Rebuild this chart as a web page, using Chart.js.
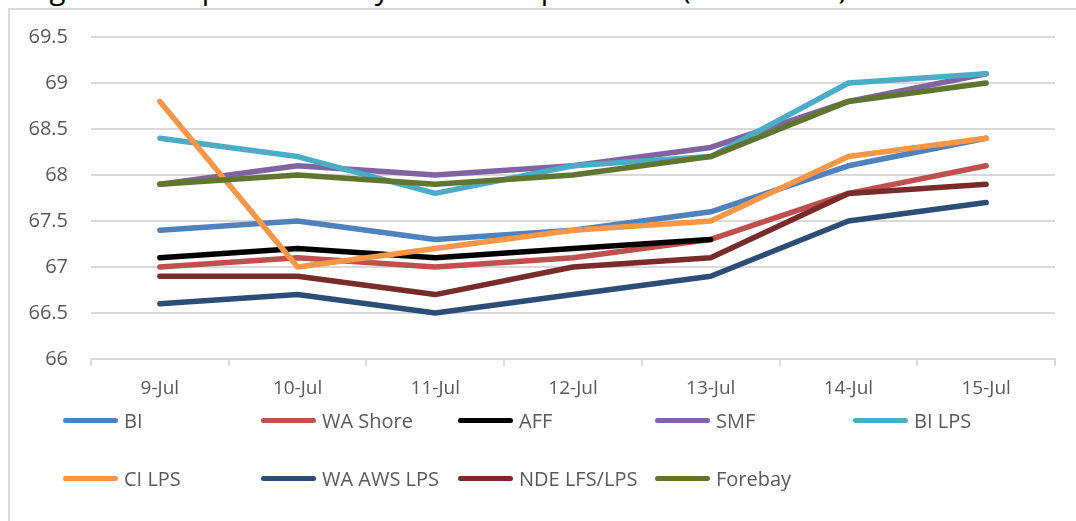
<!DOCTYPE html>
<html>
<head>
<meta charset="utf-8">
<script src="https://cdn.jsdelivr.net/npm/chart.js@4"></script>
<style>
  html, body { margin: 0; padding: 0; background: #ffffff; }
  #wrap { position: relative; width: 1076px; height: 521px; overflow: hidden; font-family: "Open Sans", sans-serif; }
  #title { position: absolute; left: 27px; top: -26px; font-size: 29.3px; line-height: 29px; color: #000; white-space: nowrap; }
  #frame { position: absolute; left: 8px; top: 8px; width: 1100px; height: 600px; border: 2px solid #d9d9d9; background: #fff; }
  #c { position: absolute; left: 0; top: 0; }
  .lg { position: absolute; display: flex; align-items: center; font-size: 20px; color: #595959; white-space: nowrap; }
  .lg .sw { width: 55px; height: 5px; border-radius: 3px; margin-right: 6px; }
</style>
</head>
<body>
<div id="wrap">
  <div id="title">Figure 4: Snapshot of Daily Water temperatures (Fahrenheit)</div>
  <div id="frame"></div>
  <canvas id="c" width="1076" height="521"></canvas>
  <div id="legend"></div>
</div>
<script>
const categories = ["9-Jul", "10-Jul", "11-Jul", "12-Jul", "13-Jul", "14-Jul", "15-Jul"];
const seriesNames = ["BI", "WA Shore", "AFF", "SMF", "BI LPS", "CI LPS", "WA AWS LPS", "NDE LFS/LPS", "Forebay"];
const BI        = [67.4, 67.5, 67.3, 67.4, 67.6, 68.1, 68.4];
const WA_Shore  = [67.0, 67.1, 67.0, 67.1, 67.3, 67.8, 68.1];
const AFF       = [67.1, 67.2, 67.1, 67.2, 67.3, null, null];
const SMF       = [67.9, 68.1, 68.0, 68.1, 68.3, 68.8, 69.1];
const BI_LPS    = [68.4, 68.2, 67.8, 68.1, 68.2, 69.0, 69.1];
const CI_LPS    = [68.8, 67.0, 67.2, 67.4, 67.5, 68.2, 68.4];
const WA_AWS_LPS= [66.6, 66.7, 66.5, 66.7, 66.9, 67.5, 67.7];
const NDE_LFS   = [66.9, 66.9, 66.7, 67.0, 67.1, 67.8, 67.9];
const Forebay   = [67.9, 68.0, 67.9, 68.0, 68.2, 68.8, 69.0];
const yTicks = [66, 66.5, 67, 67.5, 68, 68.5, 69, 69.5];

const seriesData = [BI, WA_Shore, AFF, SMF, BI_LPS, CI_LPS, WA_AWS_LPS, NDE_LFS, Forebay];
const colors = ["#4F81BD", "#C0504D", "#000000", "#8064A2", "#4BACC6", "#F79646", "#2C4D75", "#772C2A", "#5F7530"];

const N = seriesData.length;
const datasets = seriesData.map((d, i) => ({
  label: seriesNames[i],
  data: d,
  borderColor: colors[i],
  backgroundColor: colors[i],
  borderWidth: 5.5,
  pointRadius: 0,
  pointHoverRadius: 0,
  tension: 0,
  fill: false,
  spanGaps: false,
  borderCapStyle: 'round',
  borderJoinStyle: 'round',
  order: N - i
}));

const FONT = '"Open Sans", sans-serif';

new Chart(document.getElementById('c'), {
  type: 'line',
  data: { labels: categories, datasets },
  options: {
    responsive: false,
    animation: false,
    events: [],
    layout: { padding: { left: 0, right: 21, top: 37, bottom: 0 } },
    plugins: { legend: { display: false }, tooltip: { enabled: false }, title: { display: false } },
    scales: {
      x: {
        type: 'category',
        offset: true,
        grid: { offset: true, drawOnChartArea: false, drawTicks: true, tickLength: 7, color: '#d9d9d9', lineWidth: 2 },
        border: { display: true, color: '#d9d9d9', width: 2 },
        ticks: { color: '#595959', font: { family: FONT, size: 19 }, padding: 11, maxRotation: 0, autoSkip: false },
        afterFit: s => { s.height = 521 - 359 - 0; }
      },
      y: {
        min: yTicks[0],
        max: yTicks[yTicks.length - 1],
        afterBuildTicks: s => { s.ticks = yTicks.map(v => ({ value: v })); },
        grid: { color: '#d9d9d9', lineWidth: 2, drawTicks: false },
        border: { display: false },
        ticks: { color: '#595959', font: { family: FONT, size: 20 }, padding: 23, callback: v => String(+(+v).toFixed(1)) },
        afterFit: s => { s.width = 91; }
      }
    }
  }
});

// HTML legend built from the series names/colours
const legendPos = [
  [63, 420], [261, 420], [458, 420], [655, 420], [853, 420],
  [63, 478], [261, 478], [458, 478], [655, 478]
];
const lg = document.getElementById('legend');
seriesNames.forEach((name, i) => {
  const el = document.createElement('div');
  el.className = 'lg';
  el.style.left = legendPos[i][0] + 'px';
  el.style.top = (legendPos[i][1] - 14) + 'px';
  el.style.height = '28px';
  const sw = document.createElement('span');
  sw.className = 'sw';
  sw.style.background = colors[i];
  const tx = document.createElement('span');
  tx.textContent = name;
  el.appendChild(sw); el.appendChild(tx);
  lg.appendChild(el);
});
</script>
</body>
</html>
